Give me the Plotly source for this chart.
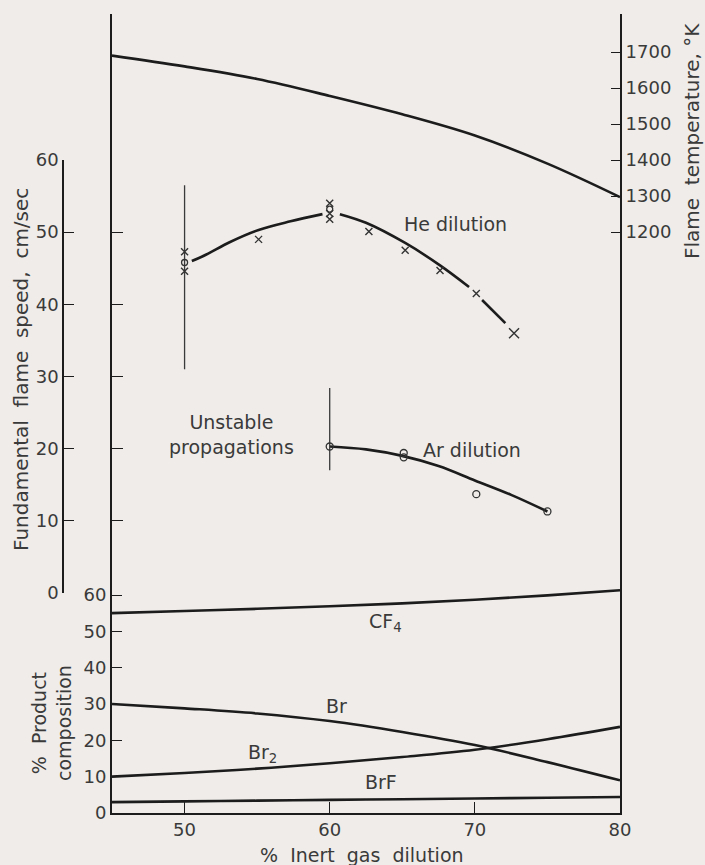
import plotly.graph_objects as go

# ---- data -------------------------------------------------------------
dilution = [45, 50, 55, 60, 65, 70, 75, 80]

# adiabatic flame temperature, K
flame_temp = [1690, 1660, 1625, 1578, 1527, 1468, 1390, 1297]

# product composition, %
cf4 = [55.0, 55.6, 56.2, 56.9, 57.7, 58.7, 59.9, 61.3]
br = [30.0, 28.8, 27.4, 25.3, 22.3, 18.7, 14.0, 9.0]
br2 = [10.0, 11.0, 12.2, 13.7, 15.4, 17.4, 20.3, 23.7]
brf = [3.0, 3.2, 3.4, 3.6, 3.8, 4.0, 4.2, 4.4]

# helium dilution: smoothed curve (drawn in pieces around the markers)
he_curve_a_x = [50.5, 51.5, 53.1, 55.1, 57.3, 59.5]
he_curve_a_y = [46.0, 46.9, 48.6, 50.3, 51.5, 52.5]
he_curve_b_x = [60.7, 62.5, 65.2, 67.6, 69.6]
he_curve_b_y = [52.5, 51.3, 48.5, 45.4, 42.4]
he_curve_c_x = [70.5, 72.1]
he_curve_c_y = [40.6, 37.4]
# helium measurements (crosses and circles)
he_x_pts = [50, 50, 55.1, 60, 60, 60, 62.7, 65.2, 67.6, 70.1]
he_x_vals = [47.3, 44.6, 49.0, 54.0, 52.6, 51.8, 50.1, 47.5, 44.7, 41.5]
he_x_last = [72.7]
he_x_last_val = [36.0]
he_o_pts = [50, 60]
he_o_vals = [45.8, 53.2]

# argon dilution
ar_curve_x = [60, 62.5, 65, 67.5, 70, 72.5, 75]
ar_curve_y = [20.3, 19.9, 19.0, 17.6, 15.6, 13.6, 11.3]
ar_o_pts = [60, 65.1, 65.1, 70.1, 75]
ar_o_vals = [20.3, 19.4, 18.8, 13.7, 11.3]

# limits of stable propagation
he_limit_x = [50, 50]
he_limit_y = [31.0, 56.5]
ar_limit_x = [60, 60]
ar_limit_y = [17.0, 28.4]

speed_ticks = [0, 10, 20, 30, 40, 50, 60]
comp_ticks = [0, 10, 20, 30, 40, 50, 60]
temp_ticks = [1200, 1300, 1400, 1500, 1600, 1700]
x_ticks = [50, 60, 70, 80]

# ---- styling ----------------------------------------------------------
INK = "#1c1c1c"
MARK = "#333333"
TXT = "#3a3a3a"
BG = "#efece9"
FONT = "DejaVu Sans"

W, H = 705, 865


def px_x(p):
    return p / W


def px_y(p):
    return (H - p) / H


fig = go.Figure()

# flame temperature (right scale)
fig.add_trace(go.Scatter(x=dilution, y=flame_temp, mode="lines", yaxis="y4",
                         line=dict(color=INK, width=2.6, shape="spline")))

# product composition (lower scale)
for ys in (cf4, br, br2, brf):
    fig.add_trace(go.Scatter(x=dilution, y=ys, mode="lines", yaxis="y",
                             line=dict(color=INK, width=2.6, shape="spline")))

# flame speed curves
for cx, cy in ((he_curve_a_x, he_curve_a_y), (he_curve_b_x, he_curve_b_y),
               (he_curve_c_x, he_curve_c_y), (ar_curve_x, ar_curve_y)):
    fig.add_trace(go.Scatter(x=cx, y=cy, mode="lines", yaxis="y2",
                             line=dict(color=INK, width=2.6, shape="spline")))

# stability limits
for lx, ly in ((he_limit_x, he_limit_y), (ar_limit_x, ar_limit_y)):
    fig.add_trace(go.Scatter(x=lx, y=ly, mode="lines", yaxis="y2",
                             line=dict(color="#3a3a3a", width=1.3)))

# markers
fig.add_trace(go.Scatter(x=he_x_pts, y=he_x_vals, mode="markers", yaxis="y2",
                         marker=dict(symbol="x-thin-open", size=7, color=MARK,
                                     line=dict(color=MARK, width=1.4))))
fig.add_trace(go.Scatter(x=he_x_last, y=he_x_last_val, mode="markers", yaxis="y2",
                         marker=dict(symbol="x-thin-open", size=10, color=MARK,
                                     line=dict(color=MARK, width=1.4))))
fig.add_trace(go.Scatter(x=he_o_pts, y=he_o_vals, mode="markers", yaxis="y2",
                         marker=dict(symbol="circle-open", size=6, color=MARK,
                                     line=dict(color=MARK, width=1.3))))
fig.add_trace(go.Scatter(x=ar_o_pts, y=ar_o_vals, mode="markers", yaxis="y2",
                         marker=dict(symbol="circle-open", size=7, color=MARK,
                                     line=dict(color=MARK, width=1.3))))

# carrier for the inner speed ticks on the main left axis
fig.add_trace(go.Scatter(x=[45], y=[0], mode="markers", yaxis="y3",
                         marker=dict(opacity=0), hoverinfo="skip"))

tickfont = dict(family=FONT, size=18, color=TXT)

x_dom = [px_x(112), px_x(620)]
main_dom = [px_y(813), px_y(14)]
speed_dom = [px_y(593), px_y(160)]

comp_top = (813 - 14) / ((813 - 595) / 60)
t_scale = (232 - 52) / 500.0
t_bottom = 1200 - (813 - 232) / t_scale
t_top = 1700 + (52 - 14) / t_scale

fig.update_layout(
    width=W, height=H,
    margin=dict(l=0, r=0, t=0, b=0, pad=0, autoexpand=False),
    paper_bgcolor=BG, plot_bgcolor="rgba(0,0,0,0)",
    showlegend=False,
    font=dict(family=FONT, color=TXT, size=18),
    xaxis=dict(domain=x_dom, range=[45, 80], anchor="y",
               showgrid=False, zeroline=False,
               showline=True, linecolor=INK, linewidth=1.6,
               ticks="inside", ticklen=11, tickwidth=1.3, tickcolor=INK,
               tickvals=x_ticks, tickfont=tickfont),
    yaxis=dict(domain=main_dom, range=[0, comp_top], anchor="x",
               showgrid=False, zeroline=False,
               showline=True, linecolor=INK, linewidth=2,
               ticks="inside", ticklen=10, tickwidth=1.3, tickcolor=INK,
               tickvals=comp_ticks, tickfont=tickfont),
    yaxis2=dict(domain=speed_dom, range=[0, 60], anchor="free",
                position=px_x(63), side="left",
                showgrid=False, zeroline=False,
                showline=True, linecolor=INK, linewidth=1.6,
                ticks="inside", ticklen=10, tickwidth=1.3, tickcolor=INK,
                tickvals=speed_ticks, tickfont=tickfont),
    yaxis3=dict(overlaying="y2", range=[0, 60], anchor="x", side="left",
                showgrid=False, zeroline=False, showline=False,
                ticks="inside", ticklen=11, tickwidth=1.3, tickcolor=INK,
                tickvals=speed_ticks[1:], showticklabels=False),
    yaxis4=dict(overlaying="y", range=[t_bottom, t_top], anchor="x",
                side="right",
                showgrid=False, zeroline=False,
                showline=True, linecolor=INK, linewidth=2,
                ticks="inside", ticklen=9, tickwidth=1.3, tickcolor=INK,
                tickvals=temp_ticks, tickfont=tickfont),
)

txt = dict(family=FONT, size=19, color=TXT)
title_font = dict(family=FONT, size=20, color=TXT)

# curve labels
fig.add_annotation(x=65.0, y=51.1, xref="x", yref="y2", text="He dilution",
                   showarrow=False, xanchor="left", yanchor="middle", font=txt)
fig.add_annotation(x=66.3, y=19.8, xref="x", yref="y2", text="Ar dilution",
                   showarrow=False, xanchor="left", yanchor="middle", font=txt)
fig.add_annotation(x=53.2, y=21.9, xref="x", yref="y2",
                   text="Unstable<br>propagations",
                   showarrow=False, xanchor="center", yanchor="middle",
                   align="center", font=txt)

fig.add_annotation(x=62.6, y=52.4, xref="x", yref="y", text="CF<sub>4</sub>",
                   showarrow=False, xanchor="left", yanchor="middle", font=txt)
fig.add_annotation(x=59.6, y=29.4, xref="x", yref="y", text="Br",
                   showarrow=False, xanchor="left", yanchor="middle", font=txt)
fig.add_annotation(x=54.2, y=16.5, xref="x", yref="y", text="Br<sub>2</sub>",
                   showarrow=False, xanchor="left", yanchor="middle", font=txt)
fig.add_annotation(x=62.3, y=8.6, xref="x", yref="y", text="BrF",
                   showarrow=False, xanchor="left", yanchor="middle", font=txt)

# axis titles
fig.add_annotation(x=px_x(21), y=px_y(370), xref="paper", yref="paper",
                   text="Fundamental  flame  speed,  cm/sec", textangle=-90,
                   showarrow=False, xanchor="center", yanchor="middle",
                   font=title_font)
fig.add_annotation(x=px_x(692), y=px_y(141), xref="paper", yref="paper",
                   text="Flame  temperature, °K", textangle=-90,
                   showarrow=False, xanchor="center", yanchor="middle",
                   font=title_font)
fig.add_annotation(x=px_x(51), y=px_y(723), xref="paper", yref="paper",
                   text="%  Product<br>composition", textangle=-90,
                   showarrow=False, xanchor="center", yanchor="middle",
                   align="center", font=txt)
fig.add_annotation(x=px_x(362), y=px_y(855), xref="paper", yref="paper",
                   text="%  Inert  gas  dilution",
                   showarrow=False, xanchor="center", yanchor="middle", font=txt)

fig.write_html("out.html")
